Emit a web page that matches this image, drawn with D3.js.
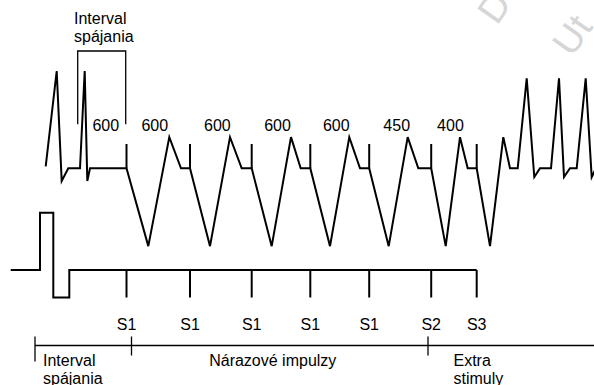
<!DOCTYPE html>
<html>
<head>
<meta charset="utf-8">
<script src="https://cdn.jsdelivr.net/npm/d3@7"></script>
<style>
  html, body { margin: 0; padding: 0; background: #fff; }
  svg { display: block; }
  text { font-family: "Liberation Sans", Arial, sans-serif; font-size: 16px; fill: #000; }
</style>
</head>
<body>
<svg id="chart" width="594" height="385"></svg>
<script>
// ---------- data (schematic time units / amplitude units) ----------
// Surface ECG trace: [time, amplitude]
const ecgTrace = [
  [45.7, 0.02], [56.7, 1.0], [61.7, -0.13], [68.3, 0], [80, 0],
  [84.7, 1.0], [87.3, -0.13], [90, 0], [126.5, 0],
  [148.3, -0.8], [169.3, 0.32], [181, 0], [190, 0],
  [210, -0.8], [230, 0.32], [241.7, 0], [251.7, 0],
  [271.7, -0.8], [291, 0.32], [300.7, 0], [310.3, 0],
  [330, -0.8], [349.3, 0.32], [360, 0], [369.2, 0],
  [388.7, -0.8], [407.7, 0.32], [418.3, 0], [431.2, 0],
  [445.7, -0.8], [460, 0.32], [467.7, 0], [476.7, 0],
  [490, -0.8], [503.3, 0.32], [510, 0], [517.7, 0],
  [526.7, 0.925], [534.3, -0.09], [540, 0], [551, 0],
  [559, 0.925], [564, -0.09], [570, 0], [576.7, 0],
  [585.7, 0.925], [591.7, -0.09], [596, 0]
];
// Stimulus times (pacing spikes)
const stimTimes  = [126.5, 190, 251.7, 310.3, 369.2, 431.2, 476.7];
const stimLabels = ["S1", "S1", "S1", "S1", "S1", "S2", "S3"];
const spikeAmp = 0.25;
// Last spontaneous beat before the first stimulus
const lastSpontaneous = 85;
// Interval labels (ms) for each interval ending at a stimulus
const intervalLabels = ["600", "600", "600", "600", "600", "450", "400"];
// Coupling interval bracket
const bracketSpan = [77.7, 125.7];
const bracketTitle = ["Interval", "spájania"];
// Stimulator channel: [time, level]
const stimChannel = [
  [10.7, 0], [40, 0], [40, 1], [53.3, 1], [53.3, -0.48], [69.3, -0.48], [69.3, 0], [476.7, 0]
];
const stimTickDepth = -0.48;
// Protocol phases along the bottom timeline
const phaseBounds = [35, 131.5, 428, 594];
const phaseNames = [["Interval", "spájania"], ["Nárazové impulzy"], ["Extra", "stimuly"]];
const phaseAlign = ["start", "middle", "start"];
// Watermark fragments visible in the corner
const watermark = ["D", "Ut"];

// ---------- scales ----------
const svg = d3.select("#chart");
const x = d3.scaleLinear().domain([0, 594]).range([0, 594]);
const yEcg = d3.scaleLinear().domain([-1, 1]).range([265.6, 71]);
const yStim = d3.scaleLinear().domain([-1, 1]).range([327.3, 212.7]);

// ---------- watermark ----------
const wmPos = [[497, 26], [572, 58]];
watermark.forEach((t, i) => {
  svg.append("text")
    .attr("transform", `translate(${wmPos[i][0]},${wmPos[i][1]}) rotate(-55)`)
    .style("font-size", "38px").style("fill", "#d6d6d6")
    .text(t);
});

// ---------- ECG ----------
const line = d3.line().x(d => x(d[0]));
svg.append("path")
  .datum(ecgTrace)
  .attr("d", line.y(d => yEcg(d[1])))
  .attr("fill", "none").attr("stroke", "#000").attr("stroke-width", 2)
  .attr("stroke-linejoin", "miter");

svg.selectAll("line.spike").data(stimTimes).join("line")
  .attr("class", "spike")
  .attr("x1", d => x(d)).attr("x2", d => x(d))
  .attr("y1", yEcg(0)).attr("y2", yEcg(spikeAmp))
  .attr("stroke", "#000").attr("stroke-width", 2);

// interval labels
const events = [lastSpontaneous].concat(stimTimes);
svg.selectAll("text.ival").data(intervalLabels).join("text")
  .attr("class", "ival")
  .attr("x", (d, i) => x((events[i] + events[i + 1]) / 2) - (i === 0 ? 0 : 3.5))
  .attr("y", 130.5)
  .attr("text-anchor", "middle")
  .text(d => d);

// bracket
const bTop = 51, bBottom = 124.3;
svg.append("path")
  .attr("d", `M${x(bracketSpan[0])},${bBottom}V${bTop}H${x(bracketSpan[1])}V${bBottom}`)
  .attr("fill", "none").attr("stroke", "#000").attr("stroke-width", 1.3);
svg.append("text").attr("x", 74).attr("y", 24.3).text(bracketTitle[0]);
svg.append("text").attr("x", 74).attr("y", 41.5).text(bracketTitle[1]);

// ---------- stimulator channel ----------
svg.append("path")
  .datum(stimChannel)
  .attr("d", d3.line().x(d => x(d[0])).y(d => yStim(d[1])))
  .attr("fill", "none").attr("stroke", "#000").attr("stroke-width", 2)
  .attr("stroke-linejoin", "miter");
svg.selectAll("line.stick").data(stimTimes).join("line")
  .attr("class", "stick")
  .attr("x1", d => x(d)).attr("x2", d => x(d))
  .attr("y1", yStim(0)).attr("y2", yStim(stimTickDepth))
  .attr("stroke", "#000").attr("stroke-width", 2);
svg.selectAll("text.slab").data(stimLabels).join("text")
  .attr("class", "slab")
  .attr("x", (d, i) => x(stimTimes[i]))
  .attr("y", 329.5)
  .attr("text-anchor", "middle")
  .text(d => d);

// ---------- protocol timeline ----------
const tlY = 345.5;
svg.append("line")
  .attr("x1", x(phaseBounds[0])).attr("x2", x(phaseBounds[3]))
  .attr("y1", tlY).attr("y2", tlY)
  .attr("stroke", "#000").attr("stroke-width", 1.3);
svg.selectAll("line.ptick").data(phaseBounds.slice(0, 3)).join("line")
  .attr("class", "ptick")
  .attr("x1", d => x(d)).attr("x2", d => x(d))
  .attr("y1", tlY - 9).attr("y2", (d, i) => tlY + (i === 0 ? 16 : 10))
  .attr("stroke", "#000").attr("stroke-width", 1.3);
phaseNames.forEach((lines, i) => {
  const a = phaseAlign[i];
  const px = a === "middle" ? x((phaseBounds[i] + phaseBounds[i + 1]) / 2) - 7 : x(phaseBounds[i]) + (i === 0 ? 8 : 25.5);
  lines.forEach((t, j) => {
    svg.append("text")
      .attr("x", px).attr("y", 366 + j * 17.5)
      .attr("text-anchor", a)
      .text(t);
  });
});
</script>
</body>
</html>
